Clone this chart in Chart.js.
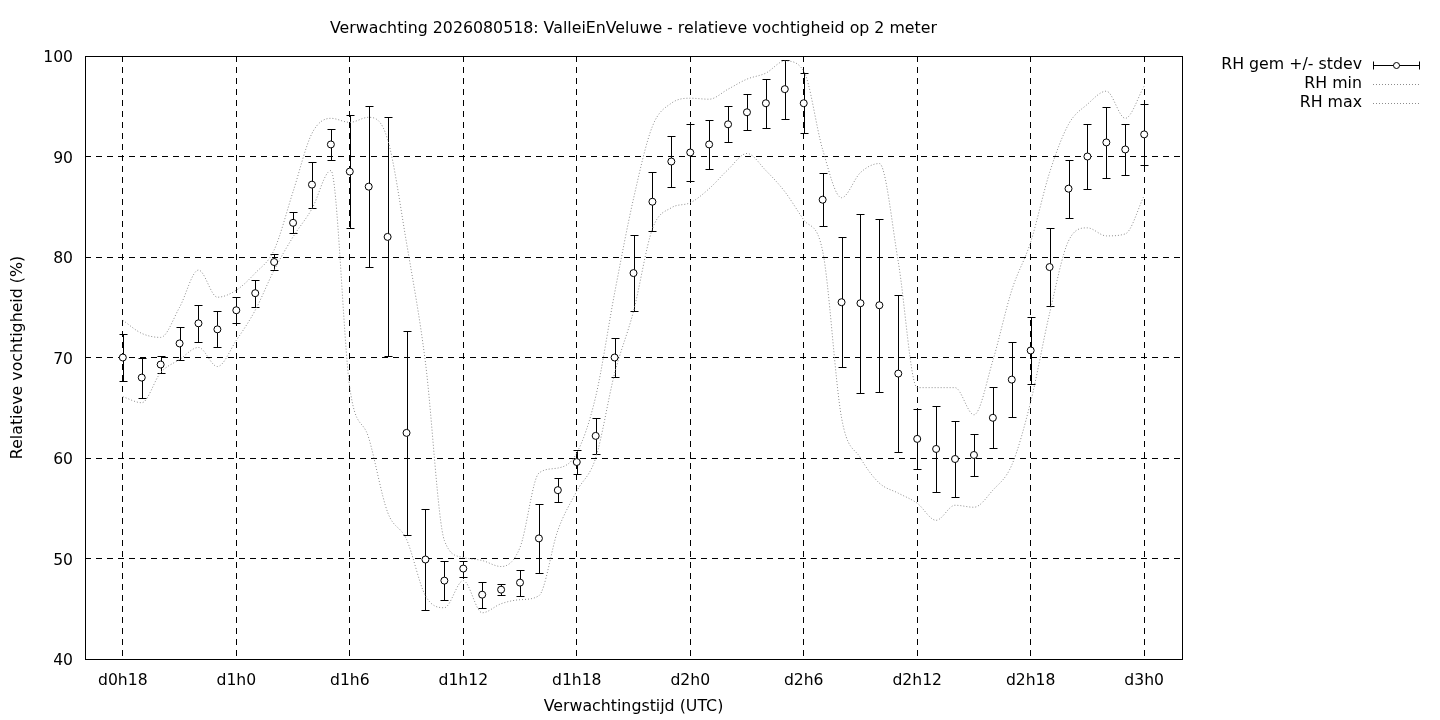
<!DOCTYPE html>
<html>
<head>
<meta charset="utf-8">
<script src="https://cdnjs.cloudflare.com/ajax/libs/Chart.js/4.4.1/chart.umd.min.js"></script>
<style>
  body { margin: 0; background: #fff; }
  canvas { display: block; }
</style>
</head>
<body>
<canvas id="chart" width="1440" height="720"></canvas>
<script>

// forecast hour (hours since d0h0)
var hours = [18,19,20,21,22,23,24,25,26,27,28,29,30,31,32,33,34,35,36,37,38,39,40,41,42,43,44,45,
             46,47,48,49,50,51,52,53,54,55,56,57,58,59,60,61,62,63,64,65,66,67,68,69,70,71,72];

var rhMean = [70.0,68.0,69.3,71.4,73.4,72.8,74.7,76.4,79.5,83.4,87.2,91.2,88.5,87.0,82.0,62.5,49.9,47.8,
              49.0,46.4,46.9,47.6,52.0,56.8,59.6,62.2,70.0,78.4,85.5,89.5,90.4,91.2,93.2,94.4,95.3,96.7,
              95.3,85.7,75.5,75.4,75.2,68.4,61.9,60.9,59.9,60.3,64.0,67.8,70.7,79.0,86.8,90.0,91.4,90.7,92.2];

var rhStdev = [2.3,2.0,0.85,1.6,1.85,1.8,1.3,1.35,0.8,1.05,2.3,1.5,5.65,8.0,11.9,10.15,5.05,1.95,
               0.8,1.3,0.55,1.3,3.45,1.2,1.2,1.8,1.9,3.8,2.95,2.55,2.85,2.45,1.8,1.8,2.45,2.95,
               3.0,2.65,6.45,8.9,8.6,7.8,3.0,4.25,3.75,2.1,3.05,3.7,3.35,3.85,2.9,3.25,3.55,2.5,3.0];

var rhMin = [66.1,65.5,68.5,69.8,71.0,69.1,71.7,74.7,78.7,82.0,84.8,88.6,67.0,62.0,54.6,51.9,46.3,45.1,
             47.8,44.6,45.5,45.9,46.3,52.8,56.7,60.0,68.4,74.6,82.8,84.9,85.4,86.8,88.7,90.3,88.6,86.5,
             83.7,80.6,64.0,60.0,57.5,56.5,55.5,53.8,55.3,55.1,56.8,59.3,65.6,74.4,81.6,82.9,82.1,82.3,86.1];

var rhMax = [73.7,72.4,72.0,75.0,78.7,76.0,76.7,78.4,80.7,86.5,92.3,93.8,93.4,93.9,91.7,81.4,69.5,51.8,
             50.1,49.8,49.2,51.1,58.5,59.0,60.5,66.1,76.4,85.8,93.0,95.3,95.8,95.7,96.7,97.7,98.3,99.5,
             98.5,90.7,85.9,88.4,89.3,79.5,67.0,67.0,67.0,64.3,69.7,76.7,81.5,88.4,93.2,95.2,96.5,93.8,97.0];

var xTicks = [18,24,30,36,42,48,54,60,66,72];
var xTickLabels = ['d0h18','d1h0','d1h6','d1h12','d1h18','d2h0','d2h6','d2h12','d2h18','d3h0'];

var titleText = 'Verwachting 2026080518: ValleiEnVeluwe - relatieve vochtigheid op 2 meter';
var xTitle = 'Verwachtingstijd (UTC)';
var yTitle = 'Relatieve vochtigheid (%)';
var legendLabels = ['RH gem +/- stdev', 'RH min', 'RH max'];

var FONT = '15.8px "DejaVu Sans"';
var DOTS = '#8c8c8c';

function toPoints(xs, ys){
    var out = [];
    for(var i = 0; i < Math.min(xs.length, ys.length); i++){
        out.push({x: xs[i], y: ys[i]});
    }
    return out;
}

// mean +/- stdev bars, drawn under the markers
var errorBars = {
    id: 'errorBars',
    beforeDatasetsDraw: function(chart){
        var ctx = chart.ctx, xs = chart.scales.x, ys = chart.scales.y;
        ctx.save();
        ctx.strokeStyle = '#000';
        ctx.lineWidth = 1;
        ctx.setLineDash([]);
        for(var i = 0; i < hours.length; i++){
            var x = Math.round(xs.getPixelForValue(hours[i])) + 0.5;
            var y1 = Math.round(ys.getPixelForValue(rhMean[i] + rhStdev[i])) + 0.5;
            var y2 = Math.round(ys.getPixelForValue(rhMean[i] - rhStdev[i])) + 0.5;
            ctx.beginPath();
            ctx.moveTo(x, y1); ctx.lineTo(x, y2);
            ctx.moveTo(x - 4, y1); ctx.lineTo(x + 4, y1);
            ctx.moveTo(x - 4, y2); ctx.lineTo(x + 4, y2);
            ctx.stroke();
        }
        ctx.restore();
    }
};

// frame, title, axis titles and the legend in gnuplot layout
var decorations = {
    id: 'decorations',
    afterDraw: function(chart){
        var ctx = chart.ctx, a = chart.chartArea;
        ctx.save();
        ctx.setLineDash([]);
        ctx.strokeStyle = '#000';
        ctx.lineWidth = 1;
        ctx.strokeRect(Math.round(a.left) + 0.5, Math.round(a.top) + 0.5,
                       Math.round(a.right - a.left), Math.round(a.bottom - a.top));

        ctx.fillStyle = '#000';
        ctx.font = FONT;
        ctx.textAlign = 'center';
        ctx.textBaseline = 'middle';
        var cx = (a.left + a.right) / 2;
        ctx.fillText(titleText, cx, 29);
        ctx.fillText(xTitle, cx, 707);

        ctx.save();
        ctx.translate(18, (a.top + a.bottom) / 2);
        ctx.rotate(-Math.PI / 2);
        ctx.fillText(yTitle, 0, 0);
        ctx.restore();

        var tx = 1362, sx1 = 1373, sx2 = 1420;
        var rows = [65, 84, 103];
        ctx.textAlign = 'right';
        for(var i = 0; i < legendLabels.length; i++){
            ctx.fillText(legendLabels[i], tx, rows[i]);
        }
        // sample: errorbar with marker
        var y = rows[0] + 0.5;
        ctx.beginPath();
        ctx.moveTo(sx1 + 0.5, y); ctx.lineTo(sx2 - 0.5, y);
        ctx.moveTo(sx1 + 0.5, y - 4); ctx.lineTo(sx1 + 0.5, y + 4);
        ctx.moveTo(sx2 - 0.5, y - 4); ctx.lineTo(sx2 - 0.5, y + 4);
        ctx.stroke();
        ctx.beginPath();
        ctx.arc((sx1 + sx2) / 2, y, 3, 0, Math.PI * 2);
        ctx.fillStyle = '#fff';
        ctx.fill();
        ctx.stroke();
        // dotted samples
        ctx.strokeStyle = DOTS;
        ctx.setLineDash([1, 2]);
        for(var j = 1; j < 3; j++){
            ctx.beginPath();
            ctx.moveTo(sx1, rows[j] + 0.5); ctx.lineTo(sx2, rows[j] + 0.5);
            ctx.stroke();
        }
        ctx.restore();
    }
};

Chart.defaults.font.family = '"DejaVu Sans"';
Chart.defaults.font.size = 15.6;
Chart.defaults.color = '#000';

var ctx = document.getElementById('chart');
var chart = new Chart(ctx, {
    type: 'scatter',
    data: {
        datasets: [
            {label: legendLabels[0], data: toPoints(hours, rhMean), pointRadius: 3.5,
             pointBackgroundColor: '#fff', pointBorderColor: '#000', pointBorderWidth: 1, order: 0},
            {label: legendLabels[1], data: toPoints(hours, rhMin), showLine: true, pointRadius: 0,
             borderColor: DOTS, borderWidth: 1, borderDash: [1, 2], cubicInterpolationMode: 'monotone', order: 1},
            {label: legendLabels[2], data: toPoints(hours, rhMax), showLine: true, pointRadius: 0,
             borderColor: DOTS, borderWidth: 1, borderDash: [1, 2], cubicInterpolationMode: 'monotone', order: 1}
        ]
    },
    options: {
        responsive: false,
        animation: false,
        devicePixelRatio: 1,
        layout: {padding: {top: 56, right: 258, left: 0, bottom: 0}},
        plugins: {legend: {display: false}, title: {display: false}, tooltip: {enabled: false}},
        scales: {
            x: {
                type: 'linear', min: 16, max: 74,
                afterBuildTicks: function(scale){
                    scale.ticks = xTicks.map(function(v){ return {value: v}; });
                },
                afterFit: function(scale){ scale.height = 61; },
                ticks: {
                    padding: 13, maxRotation: 0, autoSkip: false,
                    callback: function(v){ return xTickLabels[xTicks.indexOf(v)]; }
                },
                grid: {color: '#000', lineWidth: 1, drawTicks: false},
                border: {display: false, dash: [6, 5]}
            },
            y: {
                min: 40, max: 100,
                afterFit: function(scale){ scale.width = 85; },
                ticks: {stepSize: 10, padding: 12, labelOffset: 2},
                grid: {color: '#000', lineWidth: 1, drawTicks: false},
                border: {display: false, dash: [6, 5]}
            }
        }
    },
    plugins: [errorBars, decorations]
});

</script>
</body>
</html>
